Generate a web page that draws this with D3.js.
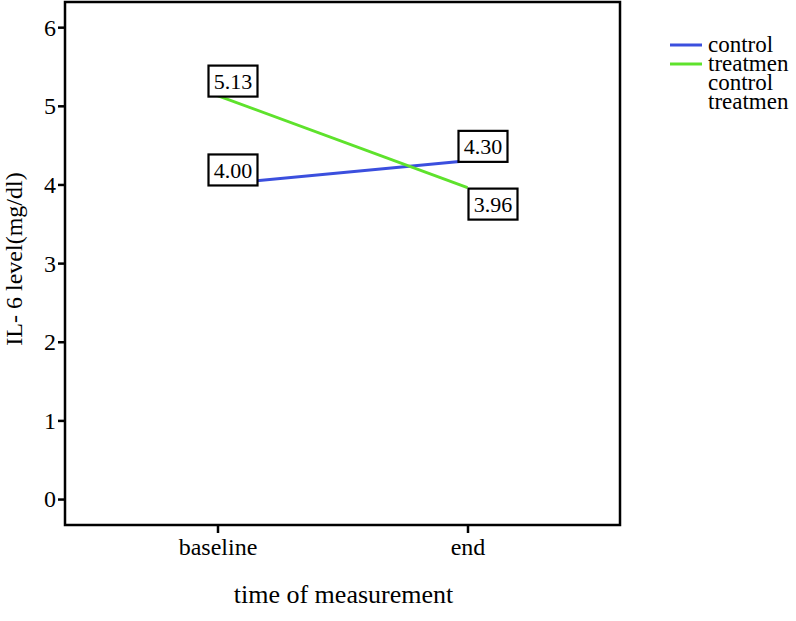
<!DOCTYPE html>
<html><head><meta charset="utf-8">
<script src="https://cdn.jsdelivr.net/npm/d3@7"></script>
<style>body{margin:0;background:#fff}svg{display:block}text{font-family:"Liberation Serif","Times New Roman",serif;fill:#000}</style>
</head><body><svg id="c" width="796" height="621"></svg>
<script>
const categories = ["baseline", "end"];
const controlValues = [4.00, 4.30];
const treatmentValues = [5.13, 3.96];
const yTickValues = [0, 1, 2, 3, 4, 5, 6];
const legendLabels = ["control", "treatmen", "control", "treatmen"];
const seriesNames = ["control", "treatmen"];
const seriesColors = ["#3b4fde", "#5ee22c"];

const svg = d3.select("#c");
const L = 65, R = 620, T = 2, B = 525;
const x = d3.scalePoint().domain(categories).range([L, R]).padding(0.61);
const y = d3.scaleLinear().domain([-0.33, 6.32]).range([B, T]);

// frame
svg.append("rect").attr("x", L).attr("y", T).attr("width", R - L).attr("height", B - T)
  .attr("fill", "none").attr("stroke", "#000").attr("stroke-width", 2.5);

// y axis
const ya = svg.append("g").attr("transform", `translate(${L},0)`)
  .call(d3.axisLeft(y).tickValues(yTickValues).tickSize(7).tickFormat(d3.format("d")));
ya.select(".domain").remove();
ya.selectAll("line").attr("stroke", "#000").attr("stroke-width", 2.5);
ya.selectAll("text").attr("font-size", 24).attr("x", -9).attr("dy", "0.33em")
  .style("font-family", '"Liberation Serif",serif');

// x axis
const xa = svg.append("g").attr("transform", `translate(0,${B})`)
  .call(d3.axisBottom(x).tickSize(8));
xa.select(".domain").remove();
xa.selectAll("line").attr("stroke", "#000").attr("stroke-width", 2.5);
xa.selectAll("text").attr("font-size", 24).attr("y", 30).attr("dy", 0)
  .style("font-family", '"Liberation Serif",serif');

// titles
svg.append("text").attr("x", (L + R) / 2 + 1).attr("y", 603).attr("text-anchor", "middle")
  .attr("font-size", 26).text("time of measurement");
svg.append("text").attr("transform", "translate(22,259) rotate(-90)").attr("text-anchor", "middle")
  .attr("font-size", 24).text("IL- 6 level(mg/dl)");

// lines
const allSeries = [controlValues, treatmentValues];
const line = d3.line().x((d, i) => x(categories[i])).y(d => y(d));
allSeries.forEach((vals, s) => {
  svg.append("path").datum(vals).attr("d", line).attr("fill", "none")
    .attr("stroke", seriesColors[s]).attr("stroke-width", 3);
});

// value labels
const bw = 49, bh = 31;
allSeries.forEach((vals, s) => {
  vals.forEach((v, i) => {
    const other = allSeries[1 - s][i];
    const below = i === categories.length - 1 && v < other;
    const px = x(categories[i]), py = y(v);
    const bx = below ? px + 1 : px - 9;
    const by = below ? py + 1 : py + 1 - bh;
    const g = svg.append("g");
    g.append("rect").attr("x", bx).attr("y", by).attr("width", bw).attr("height", bh)
      .attr("fill", "#fff").attr("stroke", "#000").attr("stroke-width", 2.2);
    g.append("text").attr("x", bx + bw / 2).attr("y", by + bh / 2).attr("dy", "0.35em")
      .attr("text-anchor", "middle").attr("font-size", 22).text(d3.format(".2f")(v));
  });
});

// legend
const lg = svg.append("g");
legendLabels.forEach((lab, i) => {
  const ly = 45 + i * 19;
  if (i < seriesNames.length) {
    lg.append("line").attr("x1", 670).attr("x2", 702).attr("y1", ly).attr("y2", ly)
      .attr("stroke", seriesColors[i]).attr("stroke-width", 3);
  }
  lg.append("text").attr("x", 708).attr("y", ly).attr("dy", "0.3em").attr("font-size", 23).text(lab);
});
</script></body></html>
